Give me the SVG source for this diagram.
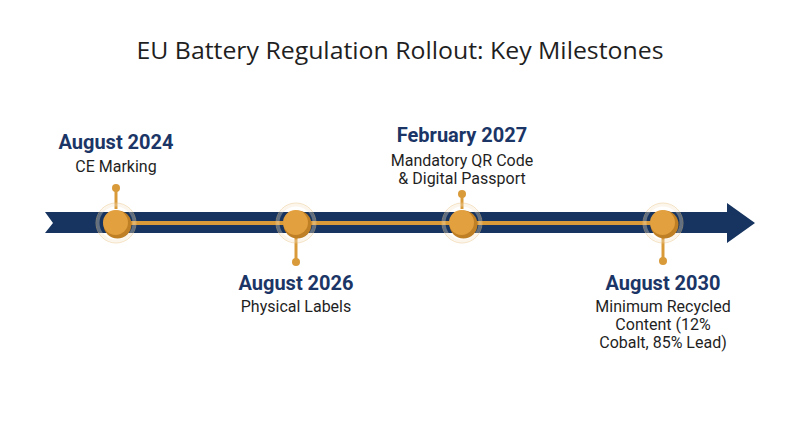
<svg xmlns="http://www.w3.org/2000/svg" width="800" height="447" viewBox="0 0 800 447">
<defs>
<style>
.title{font-family:"Open Sans","Liberation Sans",sans-serif;font-size:23px;fill:#1f1f1f;text-anchor:middle}
.date{font-family:Roboto,"Liberation Sans",sans-serif;font-size:20px;font-weight:bold;fill:#1b3566;text-anchor:middle}
.desc{font-family:Roboto,"Liberation Sans",sans-serif;font-size:16px;fill:#1f1f1f;text-anchor:middle}
.stem{stroke:#d99a3a;stroke-width:3}
.dot{fill:#d99a3a}
.halo{fill:none;stroke:#e9c58a;stroke-width:1;opacity:0.5}
.halo2{fill:none;stroke:#f3e3c6;stroke-width:3;opacity:0.35}
.shade{fill:#bf7f25}
.body{fill:#e3a03f}
</style>
</defs>
<rect width="800" height="447" fill="#ffffff"/>
<text class="title" x="400" y="59" textLength="527" lengthAdjust="spacingAndGlyphs">EU Battery Regulation Rollout: Key Milestones</text>
<g id="timeline">
<polygon points="45,212 727,212 727,203 755,223 727,243 727,233 45,233 53,223" fill="#16345f"/>
<line x1="116" y1="223" x2="663" y2="223" stroke="#d99a3a" stroke-width="4"/>
</g>
<g id="connectors">
<line class="stem" x1="116" y1="209" x2="116" y2="188"/>
<circle class="dot" cx="116" cy="188" r="4"/>
<line class="stem" x1="296" y1="237" x2="296" y2="262"/>
<circle class="dot" cx="296" cy="262" r="4"/>
<line class="stem" x1="462" y1="209" x2="462" y2="194"/>
<circle class="dot" cx="462" cy="194" r="4"/>
<line class="stem" x1="663" y1="237" x2="663" y2="261"/>
<circle class="dot" cx="663" cy="261" r="4"/>
</g>
<g id="node1">
<circle class="halo2" cx="116" cy="223" r="18"/>
<circle class="halo" cx="116" cy="223" r="20"/>
<circle class="shade" cx="117.5" cy="224.5" r="14"/>
<circle class="body" cx="115.5" cy="222.5" r="12.5"/>
<text class="date" x="116" y="149">August 2024</text>
<text class="desc" x="116" y="172">CE Marking</text>
</g>
<g id="node2">
<circle class="halo2" cx="296" cy="223" r="18"/>
<circle class="halo" cx="296" cy="223" r="20"/>
<circle class="shade" cx="297.5" cy="224.5" r="14"/>
<circle class="body" cx="295.5" cy="222.5" r="12.5"/>
<text class="date" x="296" y="290">August 2026</text>
<text class="desc" x="296" y="312">Physical Labels</text>
</g>
<g id="node3">
<circle class="halo2" cx="462" cy="223" r="18"/>
<circle class="halo" cx="462" cy="223" r="20"/>
<circle class="shade" cx="463.5" cy="224.5" r="14"/>
<circle class="body" cx="461.5" cy="222.5" r="12.5"/>
<text class="date" x="462" y="142">February 2027</text>
<text class="desc" x="462" y="166">Mandatory QR Code</text>
<text class="desc" x="462" y="184">&amp; Digital Passport</text>
</g>
<g id="node4">
<circle class="halo2" cx="663" cy="223" r="18"/>
<circle class="halo" cx="663" cy="223" r="20"/>
<circle class="shade" cx="664.5" cy="224.5" r="14"/>
<circle class="body" cx="662.5" cy="222.5" r="12.5"/>
<text class="date" x="663" y="290">August 2030</text>
<text class="desc" x="663" y="312">Minimum Recycled</text>
<text class="desc" x="663" y="330">Content (12%</text>
<text class="desc" x="663" y="348">Cobalt, 85% Lead)</text>
</g>
</svg>
